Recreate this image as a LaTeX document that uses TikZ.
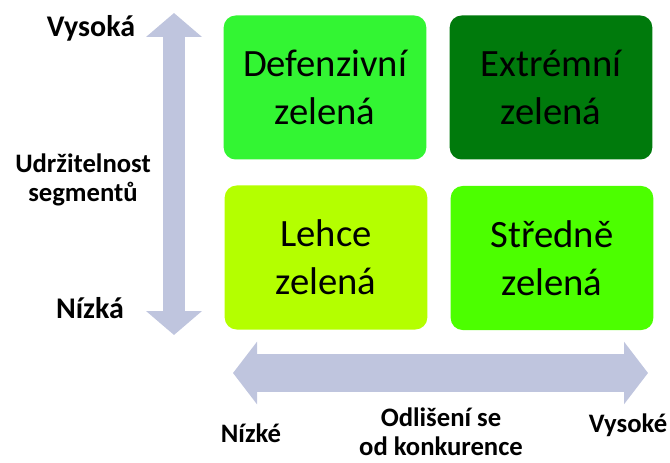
\documentclass[tikz,border=0pt]{standalone}
\usepackage{fontspec}
\setmainfont{Carlito}
\usetikzlibrary{arrows.meta}
\definecolor{axisgray}{RGB}{191,197,222}
\definecolor{defgreen}{RGB}{51,245,51}
\definecolor{extgreen}{RGB}{0,122,12}
\definecolor{lightgreen}{RGB}{180,255,0}
\definecolor{midgreen}{RGB}{76,255,0}
\begin{document}
\begin{tikzpicture}[x=0.75pt, y=-0.75pt,
  quad/.style={rounded corners=9pt, minimum width=152pt, minimum height=108pt,
    align=center, font=\fontsize{29}{36}\selectfont},
  lbl/.style={font=\fontsize{20}{22}\selectfont\bfseries, align=center, inner sep=1pt},
  endlbl/.style={font=\fontsize{22.5}{26}\selectfont\bfseries, anchor=base},
  axisarrow/.style={axisgray, {Triangle[width=#1, length=18pt]}-{Triangle[width=#1, length=18pt]}}]
  \useasboundingbox (0,0) rectangle (670,463);

  % quadrants
  \node[quad, fill=defgreen] (defenz) at (325,87.5) {Defenzivní\\zelená};
  \node[quad, fill=extgreen] (extrem) at (551,87.5) {Extrémní\\zelená};
  \node[quad, fill=lightgreen] (lehce) at (326,257.5) {Lehce\\zelená};
  \node[quad, fill=midgreen] (stredne) at (552,258) {Středně\\zelená};

  % vertical axis
  \coordinate (ytop) at (174,13);
  \coordinate (ybot) at (174,335);
  \draw[axisarrow=41pt, line width=16.5pt] (ybot) -- (ytop);
  \node[endlbl] (vysoka) at (91,37) {Vysoká};
  \node[lbl] (udrz) at (83,180) {Udržitelnost\\segmentů};
  \node[endlbl] (nizka) at (90,318) {Nízká};

  % horizontal axis
  \coordinate (xleft) at (233,373);
  \coordinate (xright) at (648,373);
  \draw[axisarrow=46pt, line width=29pt] (xleft) -- (xright);
  \node[lbl, anchor=base] (nizke) at (251,442) {Nízké};
  \node[lbl] (odlis) at (441,432) {Odlišení se\\od konkurence};
  \node[lbl, anchor=base] (vysoke) at (628,432) {Vysoké};
\end{tikzpicture}
\end{document}
